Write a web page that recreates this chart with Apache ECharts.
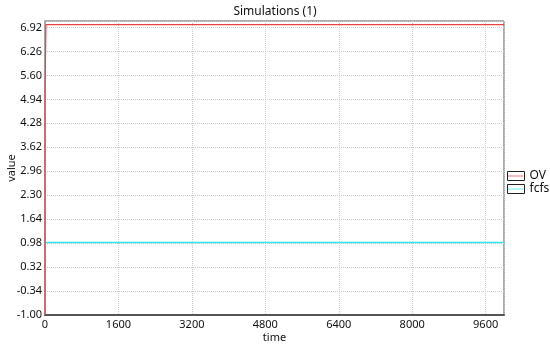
<!DOCTYPE html>
<html>
<head>
<meta charset="utf-8">
<script src="https://cdn.jsdelivr.net/npm/echarts@6/dist/echarts.min.js"></script>
<style>html,body{margin:0;padding:0;background:#fff}#c{width:550px;height:346px}</style>
</head>
<body>
<div id="c"></div>
<script>
// Data
var seriesNames = ['OV', 'fcfs'];
var timeOV = [0, 0, 10, 20, 10000];
var valuesOV = [-1, 5, 5, 7, 7];
var timeFcfs = [0, 10000];
var valuesFcfs = [1, 1];
var yTickStart = -1.00;
var yTickStep = 0.66;
var xTickStep = 1600;

var FONT = 'Noto Sans';
function pairs(xs, ys) { return xs.map(function (x, i) { return [x, ys[i]]; }); }

var chart = echarts.init(document.getElementById('c'));
chart.setOption({
  animation: false,
  backgroundColor: '#fff',
  title: {
    text: 'Simulations (1)', left: 'center', top: 1,
    textStyle: { fontFamily: FONT, fontSize: 12, fontWeight: 'normal', color: '#111' }
  },
  grid: { left: 45, right: 46, top: 21, bottom: 31, show: true, borderColor: '#555', borderWidth: 1,
    backgroundColor: 'transparent', containLabel: false, outerBoundsMode: 'none' },
  legend: [{
    orient: 'vertical', left: 507, top: 170, padding: 0, itemWidth: 17, itemHeight: 9, itemGap: 1,
    icon: 'rect', selectedMode: false, data: seriesNames,
    itemStyle: { color: '#fff', borderColor: '#222', borderWidth: 1 },
    textStyle: { fontFamily: FONT, fontSize: 12, color: '#111' }
  }, {
    orient: 'vertical', left: 508, top: 170, padding: 0, itemWidth: 15, itemHeight: 2, itemGap: 1,
    icon: 'path://M0,0H20V1H0Z', selectedMode: false, data: seriesNames,
    textStyle: { fontFamily: FONT, fontSize: 12, color: 'rgba(0,0,0,0)' }
  }],
  xAxis: {
    type: 'value', min: 0, max: 10000, interval: xTickStep,
    name: 'time', nameLocation: 'middle', nameGap: 17, nameMoveOverlap: false,
    nameTextStyle: { fontFamily: FONT, fontSize: 11, color: '#111' },
    axisLine: { show: true, onZero: false, lineStyle: { color: '#555', width: 2 } },
    axisTick: { show: false },
    axisLabel: { fontFamily: FONT, fontSize: 11, color: '#111', margin: 4, showMaxLabel: false,
      formatter: function (v) { return String(v); } },
    splitLine: { show: true, lineStyle: { color: '#ccc', type: 'dotted' } }
  },
  yAxis: {
    type: 'value', min: yTickStart, max: 7.1, interval: yTickStep,
    name: 'value', nameLocation: 'middle', nameGap: 28, nameMoveOverlap: false,
    nameTextStyle: { fontFamily: FONT, fontSize: 11, color: '#111' },
    axisLine: { show: true, onZero: false, lineStyle: { color: '#aaa', width: 2 } },
    axisTick: { show: false },
    axisLabel: { fontFamily: FONT, fontSize: 11, color: '#111', margin: 3, showMaxLabel: false,
      formatter: function (v) { return v.toFixed(2); } },
    splitLine: { show: true, lineStyle: { color: '#ccc', type: 'dotted' } }
  },
  series: [{
    name: seriesNames[0], type: 'line', data: pairs(timeOV, valuesOV),
    showSymbol: false, symbol: 'none', color: '#f04040', lineStyle: { width: 1.2, color: '#f04040' }, z: 3
  }, {
    name: seriesNames[1], type: 'line', data: pairs(timeFcfs, valuesFcfs),
    showSymbol: false, symbol: 'none', color: '#30e4f0', lineStyle: { width: 1.5, color: '#30e4f0' }, z: 2
  }]
});
</script>
</body>
</html>
